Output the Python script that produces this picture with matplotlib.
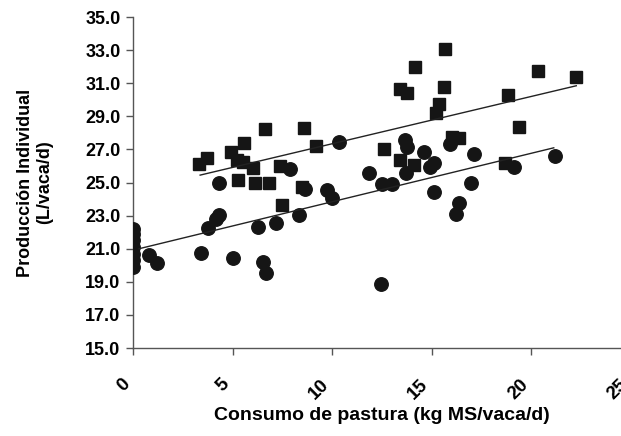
import numpy as np
import matplotlib
matplotlib.use("Agg")
import matplotlib.pyplot as plt

# data
# squares (upper group)
sq_x = [3.32, 3.70, 4.91, 5.58, 5.21, 5.54, 6.02, 5.29, 6.13, 6.85,
        6.63, 8.59, 9.21, 7.39, 7.47, 8.48, 12.58, 13.42, 14.12, 16.00,
        16.38, 18.69, 15.68, 14.14, 13.38, 13.75, 15.59, 15.34, 15.23, 18.83,
        20.34, 22.25, 19.36]
sq_y = [26.10, 26.46, 26.86, 27.40, 26.36, 26.26, 25.86, 25.15, 24.99, 24.99,
        28.21, 28.31, 27.22, 26.02, 23.64, 24.75, 27.02, 26.36, 26.06, 27.73,
        27.70, 26.16, 33.05, 31.96, 30.63, 30.43, 30.79, 29.74, 29.22, 30.29,
        31.76, 31.36, 28.37]

# circles (lower group)
ci_x = [0, 0, 0, 0, 0, 0, 0,
        0.82, 1.22, 3.40, 3.78, 4.34, 4.17, 4.34, 5.04, 6.27, 6.50, 6.67,
        7.17, 8.31, 8.64, 7.89, 9.73, 9.98, 10.32, 11.86, 12.50, 13.00,
        12.45, 13.63, 13.75, 14.59, 15.09, 14.92, 13.68, 15.89, 17.14, 19.11,
        21.17, 16.98, 15.09, 16.38, 16.22]
ci_y = [22.2, 21.9, 21.5, 21.1, 20.7, 20.3, 19.9,
        20.62, 20.12, 20.72, 22.23, 23.04, 22.79, 24.95, 20.42, 22.33, 20.21, 19.51,
        22.57, 23.04, 24.59, 25.80, 24.55, 24.05, 27.43, 25.59, 24.89, 24.89,
        18.87, 27.57, 27.16, 26.82, 26.16, 25.94, 25.59, 27.33, 26.72, 25.95,
        26.60, 24.99, 24.41, 23.76, 23.10]

# trend lines (end points)
sq_fit_x = [3.37, 22.25]
sq_fit_y = [25.45, 30.85]
ci_fit_x = [0.30, 21.12]
ci_fit_y = [21.00, 27.10]

y_ticks = np.arange(15, 36, 2)
x_ticks = [0, 5, 10, 15, 20, 25]

plt.rcParams["font.family"] = ["Liberation Sans", "DejaVu Sans"]
plt.rcParams["font.weight"] = "bold"

fig = plt.figure(figsize=(6.21, 4.36), dpi=100)
# axes runs past the right edge, the scan is cropped there
ax = fig.add_axes([0.2142, 0.2018, 0.802, 0.759])

ax.plot(sq_x, sq_y, linestyle="none", marker="s", markersize=9,
        color="#151515", zorder=2)
ax.plot(ci_x, ci_y, linestyle="none", marker="o", markersize=9.7,
        color="#151515", zorder=3)
ax.plot(sq_fit_x, sq_fit_y, color="#222222", linewidth=1.0, zorder=4)
ax.plot(ci_fit_x, ci_fit_y, color="#222222", linewidth=1.0, zorder=4)

ax.set_xlim(0, 25)
ax.set_ylim(15, 35)
ax.set_yticks(y_ticks)
ax.set_yticklabels([f"{v:.1f}" for v in y_ticks], fontsize=13, fontweight="bold")
ax.set_xticks(x_ticks)
ax.set_xticklabels([str(v) for v in x_ticks], fontsize=13.5, fontweight="bold",
                   rotation=45, ha="right", va="top")

for side in ["top", "right"]:
    ax.spines[side].set_visible(False)
for side in ["left", "bottom"]:
    ax.spines[side].set_color("#555555")
    ax.spines[side].set_linewidth(1.0)
ax.tick_params(axis="both", direction="out", length=5, color="#555555", width=1)
ax.tick_params(axis="x", pad=15)
ax.tick_params(axis="y", pad=4)

ax.set_xlabel("Consumo de pastura (kg MS/vaca/d)", fontsize=14,
              fontweight="bold", labelpad=3)
ax.set_ylabel("Producción Individual\n(L/vaca/d)", fontsize=13,
              fontweight="bold", labelpad=23, linespacing=1.2)

fig.savefig("out.png", dpi=100)
